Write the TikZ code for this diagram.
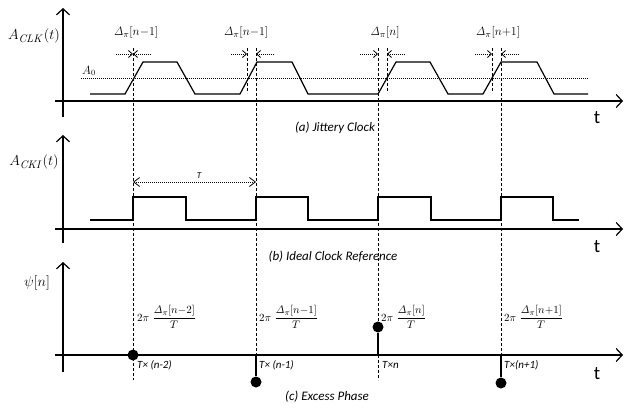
\documentclass[tikz,border=0pt]{standalone}
\usepackage[no-math]{fontspec}
\setmainfont{Carlito}
\usetikzlibrary{arrows.meta}
\begin{document}
\begin{tikzpicture}[x=1pt,y=-1pt,
  axis/.style={line width=1.2pt, -{Straight Barb[length=6pt,width=13pt,line width=1.2pt]}},
  wave/.style={line width=1.2pt, line join=miter},
  guide/.style={line width=0.9pt, dash pattern=on 3pt off 2pt},
  stem/.style={line width=1.2pt},
  thr/.style={line width=0.8pt, dash pattern=on 1pt off 1pt},
  jit/.style={line width=0.7pt, dash pattern=on 1pt off 1pt, -{Straight Barb[length=4pt,width=7pt,line width=0.8pt]}},
  dot/.style={circle, fill=black, inner sep=0pt, minimum size=11pt},
  captxt/.style={font=\fontsize{13}{15}\selectfont\itshape},
  ylab/.style={font=\fontsize{15}{17}\selectfont},
  tlab/.style={font=\fontsize{19}{21}\selectfont},
  dlab/.style={font=\fontsize{13}{15}\selectfont},
  flab/.style={font=\fontsize{11}{13}\selectfont, anchor=west, inner sep=1pt},
  klab/.style={font=\fontsize{11}{13}\selectfont\itshape, anchor=west, inner sep=1pt}
]
\useasboundingbox (0,0) rectangle (634,409);

% ---------- panel (a) ----------
\coordinate (a0) at (63,117); \coordinate (a1) at (63,8);
\coordinate (a2) at (55,101); \coordinate (a3) at (623,101);
\draw[axis] (a0) -- (a1);
\draw[axis] (a2) -- (a3);
\draw[thr] (81,78) -- (588,78);
\draw[wave] (90,94) -- (125,94) -- (143,62) -- (177,62) -- (195,94) -- (240,94) -- (257,62) -- (292,62) -- (308,94)
  -- (378,94) -- (396,62) -- (430,62) -- (448,94) -- (483,94) -- (501,62) -- (537,62) -- (554,94) -- (588,94);
\node[ylab] (lclk) at (34,36) {$A_{\mathit{CLK}}(t)$};
\node[font=\fontsize{12}{14}\selectfont] (la0) at (89,71) {$A_0$};
\node[tlab] (ta) at (597,118) {t};
\node[captxt] (capa) at (335,128) {(a) Jittery Clock};

% short dashed guides
\draw[guide] (247,48) -- (247,93);
\draw[guide] (387,48) -- (387,93);
\draw[guide] (492,48) -- (492,93);

% jitter arrows
\draw[jit] (116,54) -- (133,54); \draw[jit] (151,54) -- (133,54);
\draw[jit] (231,54) -- (247,54); \draw[jit] (274,54) -- (256,54);
\draw[jit] (360,54) -- (378,54); \draw[jit] (405,54) -- (387,54);
\draw[jit] (475,54) -- (492,54); \draw[jit] (519,54) -- (501,54);
\node[dlab] (d1) at (136,33) {$\mathit{\Delta}_{\pi}[n{-}1]$};
\node[dlab] (d2) at (246,33) {$\mathit{\Delta}_{\pi}[n{-}1]$};
\node[dlab] (d3) at (385,33) {$\mathit{\Delta}_{\pi}[n]$};
\node[dlab] (d4) at (498,33) {$\mathit{\Delta}_{\pi}[n{+}1]$};

% ---------- panel (b) ----------
\coordinate (b0) at (63,243); \coordinate (b1) at (63,135);
\coordinate (b2) at (55,229); \coordinate (b3) at (623,229);
\draw[axis] (b0) -- (b1);
\draw[axis] (b2) -- (b3);
\draw[wave] (90,220) -- (133,220) -- (133,197) -- (186,197) -- (186,220) -- (256,220) -- (256,197) -- (308,197) -- (308,220)
  -- (378,220) -- (378,197) -- (431,197) -- (431,220) -- (501,220) -- (501,197) -- (553,197) -- (553,220) -- (579,220);
\coordinate (tL) at (133,182); \coordinate (tR) at (256,182);
\draw[line width=0.7pt, dash pattern=on 1pt off 1pt, {Straight Barb[length=6pt,width=9pt,line width=0.8pt]}-{Straight Barb[length=6pt,width=9pt,line width=0.8pt]}] (tL) -- (tR);
\node[font=\fontsize{9}{11}\selectfont\itshape] (lT) at (199,176) {T};
\node[ylab] (lcki) at (34,162) {$A_{\mathit{CKI}}(t)$};
\node[tlab] (tb) at (597,247) {t};
\node[captxt] (capb) at (333,257) {(b) Ideal Clock Reference};

% ---------- panel (c) ----------
\coordinate (c0) at (63,372); \coordinate (c1) at (63,262);
\coordinate (c2) at (55,355); \coordinate (c3) at (623,355);
\draw[axis] (c0) -- (c1);
\draw[axis] (c2) -- (c3);
\node[ylab] (lpsi) at (37,283) {$\psi[n]$};
\node[tlab] (tc) at (597,374) {t};
\node[captxt] (capc) at (327,397) {(c) Excess Phase};

% long guides and stems
\draw[guide] (133,48) -- (133,380);
\draw[guide] (256,48) -- (256,355);
\draw[guide] (378,48) -- (378,322);
\draw[guide] (378,355) -- (378,380);
\draw[guide] (501,48) -- (501,355);
\node[dot] (p1) at (133,355) {};
\node[dot] (p2) at (256,382) {};
\node[dot] (p3) at (378,327) {};
\node[dot] (p4) at (501,383) {};
\coordinate (q2) at (256,355); \coordinate (q3) at (378,355); \coordinate (q4) at (501,355);
\draw[stem] (q2) -- (p2);
\draw[stem] (q3) -- (p3);
\draw[stem] (q4) -- (p4);

\node[flab] (f1) at (136,317) {$2\pi\;\displaystyle\frac{\mathit{\Delta}_{\pi}[n{-}2]}{T}$};
\node[flab] (f2) at (258,317) {$2\pi\;\displaystyle\frac{\mathit{\Delta}_{\pi}[n{-}1]}{T}$};
\node[flab] (f3) at (380,317) {$2\pi\;\displaystyle\frac{\mathit{\Delta}_{\pi}[n]}{T}$};
\node[flab] (f4) at (503,317) {$2\pi\;\displaystyle\frac{\mathit{\Delta}_{\pi}[n{+}1]}{T}$};

\node[klab] (k1) at (136,365) {T× (n-2)};
\node[klab] (k2) at (258,365) {T× (n-1)};
\node[klab] (k3) at (381,365) {T×n};
\node[klab] (k4) at (503,365) {T×(n+1)};
\end{tikzpicture}
\end{document}
